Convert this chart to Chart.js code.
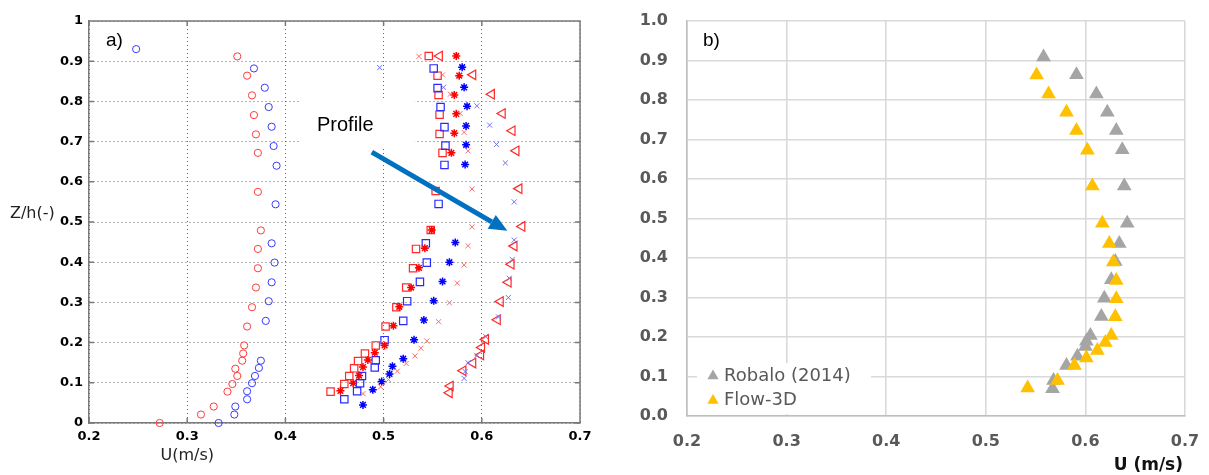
<!DOCTYPE html>
<html>
<head>
<meta charset="utf-8">
<script src="https://cdn.jsdelivr.net/npm/chart.js@4.4.1/dist/chart.umd.min.js"></script>
<style>
  html, body { margin: 0; padding: 0; background: #fff; }
  #wrap { position: relative; width: 1209px; height: 475px; overflow: hidden; }
  #chartA { position: absolute; left: 0; top: 0; }
  #chartB { position: absolute; left: 610px; top: 0; }
</style>
</head>
<body>
<div id="wrap">
  <canvas id="chartA" width="600" height="475"></canvas>
  <canvas id="chartB" width="599" height="475"></canvas>
</div>
<script>
// panel a) - measured velocity profiles, U (m/s) against Z/h
var redCircleU = [0.351, 0.361, 0.366, 0.368, 0.370, 0.372, 0.372, 0.375, 0.372, 0.372, 0.370, 0.366, 0.361, 0.358, 0.357, 0.356, 0.349, 0.351, 0.346, 0.341, 0.327, 0.314, 0.272];
var redCircleZ = [0.912, 0.864, 0.815, 0.766, 0.718, 0.672, 0.575, 0.479, 0.433, 0.385, 0.337, 0.288, 0.240, 0.193, 0.173, 0.155, 0.135, 0.117, 0.097, 0.078, 0.041, 0.021, 0.0];
var blueCircleU = [0.248, 0.368, 0.379, 0.383, 0.386, 0.388, 0.391, 0.390, 0.386, 0.389, 0.386, 0.383, 0.380, 0.375, 0.373, 0.369, 0.366, 0.361, 0.361, 0.349, 0.348, 0.332];
var blueCircleZ = [0.930, 0.882, 0.834, 0.786, 0.737, 0.689, 0.640, 0.544, 0.447, 0.399, 0.350, 0.303, 0.254, 0.155, 0.137, 0.117, 0.099, 0.079, 0.059, 0.041, 0.021, 0.0];
var redSquareU = [0.546, 0.555, 0.556, 0.557, 0.557, 0.560, 0.553, 0.548, 0.533, 0.530, 0.523, 0.513, 0.502, 0.492, 0.481, 0.474, 0.470, 0.465, 0.460, 0.446];
var redSquareZ = [0.913, 0.864, 0.816, 0.767, 0.719, 0.672, 0.577, 0.480, 0.433, 0.385, 0.337, 0.288, 0.240, 0.193, 0.173, 0.154, 0.136, 0.117, 0.097, 0.078];
var blueSquareU = [0.551, 0.555, 0.558, 0.562, 0.563, 0.562, 0.556, 0.543, 0.544, 0.537, 0.524, 0.520, 0.501, 0.492, 0.491, 0.478, 0.476, 0.473, 0.460];
var blueSquareZ = [0.882, 0.833, 0.786, 0.736, 0.690, 0.642, 0.545, 0.447, 0.399, 0.351, 0.303, 0.254, 0.206, 0.156, 0.138, 0.117, 0.099, 0.079, 0.059];
var redStarU = [0.574, 0.577, 0.572, 0.574, 0.572, 0.569, 0.549, 0.542, 0.536, 0.528, 0.516, 0.510, 0.501, 0.491, 0.484, 0.479, 0.475, 0.469, 0.456];
var redStarZ = [0.913, 0.864, 0.816, 0.769, 0.721, 0.672, 0.480, 0.435, 0.386, 0.337, 0.289, 0.242, 0.193, 0.175, 0.157, 0.139, 0.118, 0.099, 0.080];
var blueStarU = [0.580, 0.582, 0.585, 0.584, 0.584, 0.583, 0.573, 0.567, 0.560, 0.551, 0.541, 0.531, 0.520, 0.509, 0.506, 0.498, 0.489, 0.479];
var blueStarZ = [0.885, 0.835, 0.788, 0.739, 0.692, 0.643, 0.449, 0.400, 0.352, 0.304, 0.256, 0.207, 0.160, 0.141, 0.122, 0.103, 0.083, 0.045];
var redCrossU = [0.536, 0.560, 0.568, 0.578, 0.582, 0.586, 0.590, 0.590, 0.586, 0.582, 0.575, 0.567, 0.556, 0.544, 0.538, 0.532, 0.523, 0.514, 0.505, 0.497, 0.479];
var redCrossZ = [0.912, 0.866, 0.818, 0.770, 0.723, 0.677, 0.582, 0.488, 0.441, 0.393, 0.348, 0.299, 0.252, 0.204, 0.186, 0.167, 0.148, 0.129, 0.108, 0.090, 0.073];
var blueCrossU = [0.496, 0.561, 0.595, 0.608, 0.615, 0.624, 0.633, 0.633, 0.631, 0.628, 0.627, 0.617, 0.604, 0.595, 0.586, 0.583, 0.582];
var blueCrossZ = [0.884, 0.835, 0.789, 0.741, 0.693, 0.647, 0.550, 0.455, 0.407, 0.360, 0.312, 0.264, 0.215, 0.168, 0.150, 0.128, 0.111];
var redTriU = [0.557, 0.591, 0.610, 0.621, 0.631, 0.635, 0.638, 0.641, 0.633, 0.630, 0.627, 0.619, 0.616, 0.604, 0.600, 0.599, 0.591, 0.581, 0.568, 0.567];
var redTriZ = [0.913, 0.866, 0.818, 0.770, 0.727, 0.677, 0.583, 0.489, 0.440, 0.395, 0.350, 0.302, 0.257, 0.208, 0.188, 0.169, 0.149, 0.130, 0.092, 0.075];

// panel b) - Robalo (2014) vs Flow-3D
var robaloU = [0.558, 0.591, 0.611, 0.622, 0.631, 0.637, 0.639, 0.642, 0.634, 0.630, 0.626, 0.619, 0.616, 0.605, 0.601, 0.600, 0.592, 0.581, 0.568, 0.567];
var robaloZ = [0.909, 0.864, 0.815, 0.769, 0.723, 0.674, 0.582, 0.488, 0.437, 0.391, 0.345, 0.298, 0.252, 0.204, 0.189, 0.176, 0.151, 0.128, 0.090, 0.069];
var flowU = [0.551, 0.563, 0.581, 0.591, 0.602, 0.607, 0.617, 0.624, 0.628, 0.631, 0.631, 0.630, 0.626, 0.620, 0.612, 0.601, 0.589, 0.572, 0.542];
var flowZ = [0.863, 0.815, 0.769, 0.723, 0.673, 0.582, 0.488, 0.437, 0.390, 0.343, 0.297, 0.251, 0.204, 0.186, 0.166, 0.147, 0.128, 0.090, 0.071];

var ticksX = ['0.2', '0.3', '0.4', '0.5', '0.6', '0.7'];
var ticksAY = ['0', '0.1', '0.2', '0.3', '0.4', '0.5', '0.6', '0.7', '0.8', '0.9', '1'];
var ticksBY = ['0.0', '0.1', '0.2', '0.3', '0.4', '0.5', '0.6', '0.7', '0.8', '0.9', '1.0'];

// "Profile" arrow, in data units (from -> tip)
var arrowFrom = [0.488, 0.674];
var arrowTo = [0.626, 0.478];

function toPoints(u, z) {
    return u.map(function (v, i) { return { x: v, y: z[i] }; });
}

function markers(label, u, z, style, color, radius, width, rotation) {
    return {
        label: label,
        data: toPoints(u, z),
        pointStyle: style,
        pointRadius: radius,
        pointBorderColor: color,
        pointBackgroundColor: 'rgba(0,0,0,0)',
        pointBorderWidth: width,
        pointRotation: rotation || 0,
        showLine: false,
        clip: false
    };
}

// keep the plot boxes exactly where the original has them
function fixWidth(w) {
    return function (s) { s.width = w; s.paddingTop = 0; s.paddingBottom = 0; };
}
function fixHeight(h) {
    return function (s) { s.height = h; s.paddingLeft = 0; s.paddingRight = 0; };
}

var panelAExtras = {
    id: 'panelAExtras',
    beforeDatasetsDraw: function (chart) {
        var ctx = chart.ctx, xs = chart.scales.x, ys = chart.scales.y;
        // the text box of the annotation hides the grid behind it
        var x0 = xs.getPixelForValue(0.4146), x1 = xs.getPixelForValue(0.5316);
        var y0 = ys.getPixelForValue(0.806), y1 = ys.getPixelForValue(0.689);
        ctx.save();
        ctx.fillStyle = '#ffffff';
        ctx.fillRect(x0, y0, x1 - x0, y1 - y0);
        ctx.restore();
    },
    afterDatasetsDraw: function (chart) {
        var ctx = chart.ctx, a = chart.chartArea, xs = chart.scales.x, ys = chart.scales.y;
        ctx.save();
        // top and right box lines plus inward ticks
        ctx.strokeStyle = '#7a7a7a';
        ctx.lineWidth = 1.5;
        ctx.beginPath();
        ctx.moveTo(a.left, a.top); ctx.lineTo(a.right, a.top); ctx.lineTo(a.right, a.bottom);
        xs.ticks.forEach(function (t) {
            var px = xs.getPixelForValue(t.value);
            ctx.moveTo(px, a.bottom); ctx.lineTo(px, a.bottom - 5);
            ctx.moveTo(px, a.top); ctx.lineTo(px, a.top + 5);
        });
        ys.ticks.forEach(function (t) {
            var py = ys.getPixelForValue(t.value);
            ctx.moveTo(a.left, py); ctx.lineTo(a.left + 5, py);
            ctx.moveTo(a.right, py); ctx.lineTo(a.right - 5, py);
        });
        ctx.stroke();

        // arrow
        var sx = xs.getPixelForValue(arrowFrom[0]), sy = ys.getPixelForValue(arrowFrom[1]);
        var ex = xs.getPixelForValue(arrowTo[0]), ey = ys.getPixelForValue(arrowTo[1]);
        var ang = Math.atan2(ey - sy, ex - sx), head = 18, hw = 8;
        var bx = ex - head * Math.cos(ang), by = ey - head * Math.sin(ang);
        ctx.strokeStyle = '#0070c0';
        ctx.fillStyle = '#0070c0';
        ctx.lineWidth = 5;
        ctx.beginPath(); ctx.moveTo(sx, sy); ctx.lineTo(bx, by); ctx.stroke();
        ctx.beginPath();
        ctx.moveTo(ex, ey);
        ctx.lineTo(bx + hw * Math.sin(ang), by - hw * Math.cos(ang));
        ctx.lineTo(bx - hw * Math.sin(ang), by + hw * Math.cos(ang));
        ctx.closePath();
        ctx.fill();

        // texts
        ctx.fillStyle = '#000';
        ctx.textBaseline = 'alphabetic';
        ctx.textAlign = 'left';
        ctx.font = '19px "Liberation Sans", Arial, sans-serif';
        ctx.fillText('a)', a.left + 17, a.top + 25);
        ctx.font = '20px "Liberation Sans", Arial, sans-serif';
        ctx.fillText('Profile', 317, 131);
        ctx.fillStyle = '#222';
        ctx.font = '16px "DejaVu Sans", sans-serif';
        ctx.textBaseline = 'middle';
        ctx.fillText('Z/h(-)', 10, ys.getPixelForValue(0.52));
        ctx.textAlign = 'center';
        ctx.fillText('U(m/s)', xs.getPixelForValue(0.3), 456);
        ctx.restore();
    }
};

var panelBExtras = {
    id: 'panelBExtras',
    beforeDatasetsDraw: function (chart) {
        var ctx = chart.ctx, a = chart.chartArea;
        ctx.save();
        ctx.fillStyle = '#ffffff';
        ctx.fillRect(a.left + 10, a.bottom - 53, 174, 51);
        ctx.restore();
    },
    afterDraw: function (chart) {
        var ctx = chart.ctx, a = chart.chartArea;
        var sets = chart.data.datasets;
        ctx.save();
        ctx.fillStyle = '#000';
        ctx.textBaseline = 'alphabetic';
        ctx.textAlign = 'left';
        ctx.font = '19px "Liberation Sans", Arial, sans-serif';
        ctx.fillText('b)', a.left + 16, a.top + 25);

        // legend (Robalo first, Flow-3D second)
        var rows = [sets[1], sets[0]];
        ctx.font = '18px "DejaVu Sans", sans-serif';
        ctx.textBaseline = 'middle';
        rows.forEach(function (d, i) {
            var cx = a.left + 26, cy = a.bottom - 40 + i * 24.5, r = 6.5;
            ctx.fillStyle = d.pointBackgroundColor;
            ctx.beginPath();
            ctx.moveTo(cx, cy - r);
            ctx.lineTo(cx + r * 0.866, cy + r * 0.5);
            ctx.lineTo(cx - r * 0.866, cy + r * 0.5);
            ctx.closePath();
            ctx.fill();
            ctx.fillStyle = '#595959';
            ctx.fillText(d.label, a.left + 37, cy);
        });

        ctx.fillStyle = '#111';
        ctx.font = 'bold 17px "DejaVu Sans", sans-serif';
        ctx.textAlign = 'right';
        ctx.fillText('U (m/s)', a.right - 2, 466);
        ctx.restore();
    }
};

var chartA = new Chart(document.getElementById('chartA'), {
    type: 'scatter',
    data: {
        datasets: [
            markers('blue x', blueCrossU, blueCrossZ, 'crossRot', '#7070ff', 3.6, 1),
            markers('red triangle', redTriU, redTriZ, 'triangle', '#ff2a2a', 5.5, 1.2, -90),
            markers('red x', redCrossU, redCrossZ, 'crossRot', '#ff6a6a', 3.6, 1),
            markers('blue star', blueStarU, blueStarZ, 'star', '#0000ff', 4, 1.5),
            markers('red star', redStarU, redStarZ, 'star', '#ff0000', 4, 1.5),
            markers('blue square', blueSquareU, blueSquareZ, 'rect', '#2a2aff', 5.2, 1.2),
            markers('red square', redSquareU, redSquareZ, 'rect', '#ff2a2a', 5.2, 1.2),
            markers('blue circle', blueCircleU, blueCircleZ, 'circle', '#3a3aff', 3.6, 1),
            markers('red circle', redCircleU, redCircleZ, 'circle', '#ff3a3a', 3.6, 1)
        ]
    },
    options: {
        responsive: false,
        animation: false,
        events: [],
        layout: { padding: { top: 21, right: 20, left: 0, bottom: 0 } },
        plugins: { legend: { display: false }, tooltip: { enabled: false } },
        scales: {
            x: {
                type: 'linear', min: 0.2, max: 0.7,
                afterFit: fixHeight(52),
                grid: { color: '#666', lineWidth: 1, drawTicks: false },
                border: { display: true, color: '#7a7a7a', width: 1.5, dash: [1, 3] },
                ticks: {
                    stepSize: 0.1, padding: 6, color: '#000',
                    font: { family: '"DejaVu Sans", sans-serif', size: 13, weight: 'bold' },
                    callback: function (v, i) { return ticksX[i]; }
                }
            },
            y: {
                type: 'linear', min: 0, max: 1,
                afterFit: fixWidth(89),
                grid: { color: '#666', lineWidth: 1, drawTicks: false },
                border: { display: true, color: '#7a7a7a', width: 1.5, dash: [1, 3] },
                ticks: {
                    stepSize: 0.1, padding: 6, color: '#000',
                    font: { family: '"DejaVu Sans", sans-serif', size: 13, weight: 'bold' },
                    callback: function (v, i) { return ticksAY[i]; }
                }
            }
        }
    },
    plugins: [panelAExtras]
});

var chartB = new Chart(document.getElementById('chartB'), {
    type: 'scatter',
    data: {
        datasets: [
            {
                label: 'Flow-3D', data: toPoints(flowU, flowZ), order: 1,
                pointStyle: 'triangle', pointRadius: 8.5, pointBorderWidth: 0,
                pointBackgroundColor: '#ffc000', pointBorderColor: '#ffc000', clip: false
            },
            {
                label: 'Robalo (2014)', data: toPoints(robaloU, robaloZ), order: 2,
                pointStyle: 'triangle', pointRadius: 8.5, pointBorderWidth: 0,
                pointBackgroundColor: '#a5a5a5', pointBorderColor: '#a5a5a5', clip: false
            }
        ]
    },
    options: {
        responsive: false,
        animation: false,
        events: [],
        layout: { padding: { top: 21, right: 24, left: 0, bottom: 0 } },
        plugins: { legend: { display: false }, tooltip: { enabled: false } },
        scales: {
            x: {
                type: 'linear', min: 0.2, max: 0.7,
                afterFit: fixHeight(59),
                grid: { color: '#d9d9d9', lineWidth: 1.6, drawTicks: false },
                border: { display: true, color: '#bfbfbf', width: 1.6 },
                ticks: {
                    stepSize: 0.1, padding: 16, color: '#595959',
                    font: { family: '"DejaVu Sans", sans-serif', size: 16, weight: 'bold' },
                    callback: function (v, i) { return ticksX[i]; }
                }
            },
            y: {
                type: 'linear', min: 0, max: 1,
                afterFit: fixWidth(77),
                grid: { color: '#d9d9d9', lineWidth: 1.6, drawTicks: false },
                border: { display: true, color: '#bfbfbf', width: 1.6 },
                ticks: {
                    stepSize: 0.1, padding: 19, color: '#595959',
                    font: { family: '"DejaVu Sans", sans-serif', size: 16, weight: 'bold' },
                    callback: function (v, i) { return ticksBY[i]; }
                }
            }
        }
    },
    plugins: [panelBExtras]
});
</script>
</body>
</html>
